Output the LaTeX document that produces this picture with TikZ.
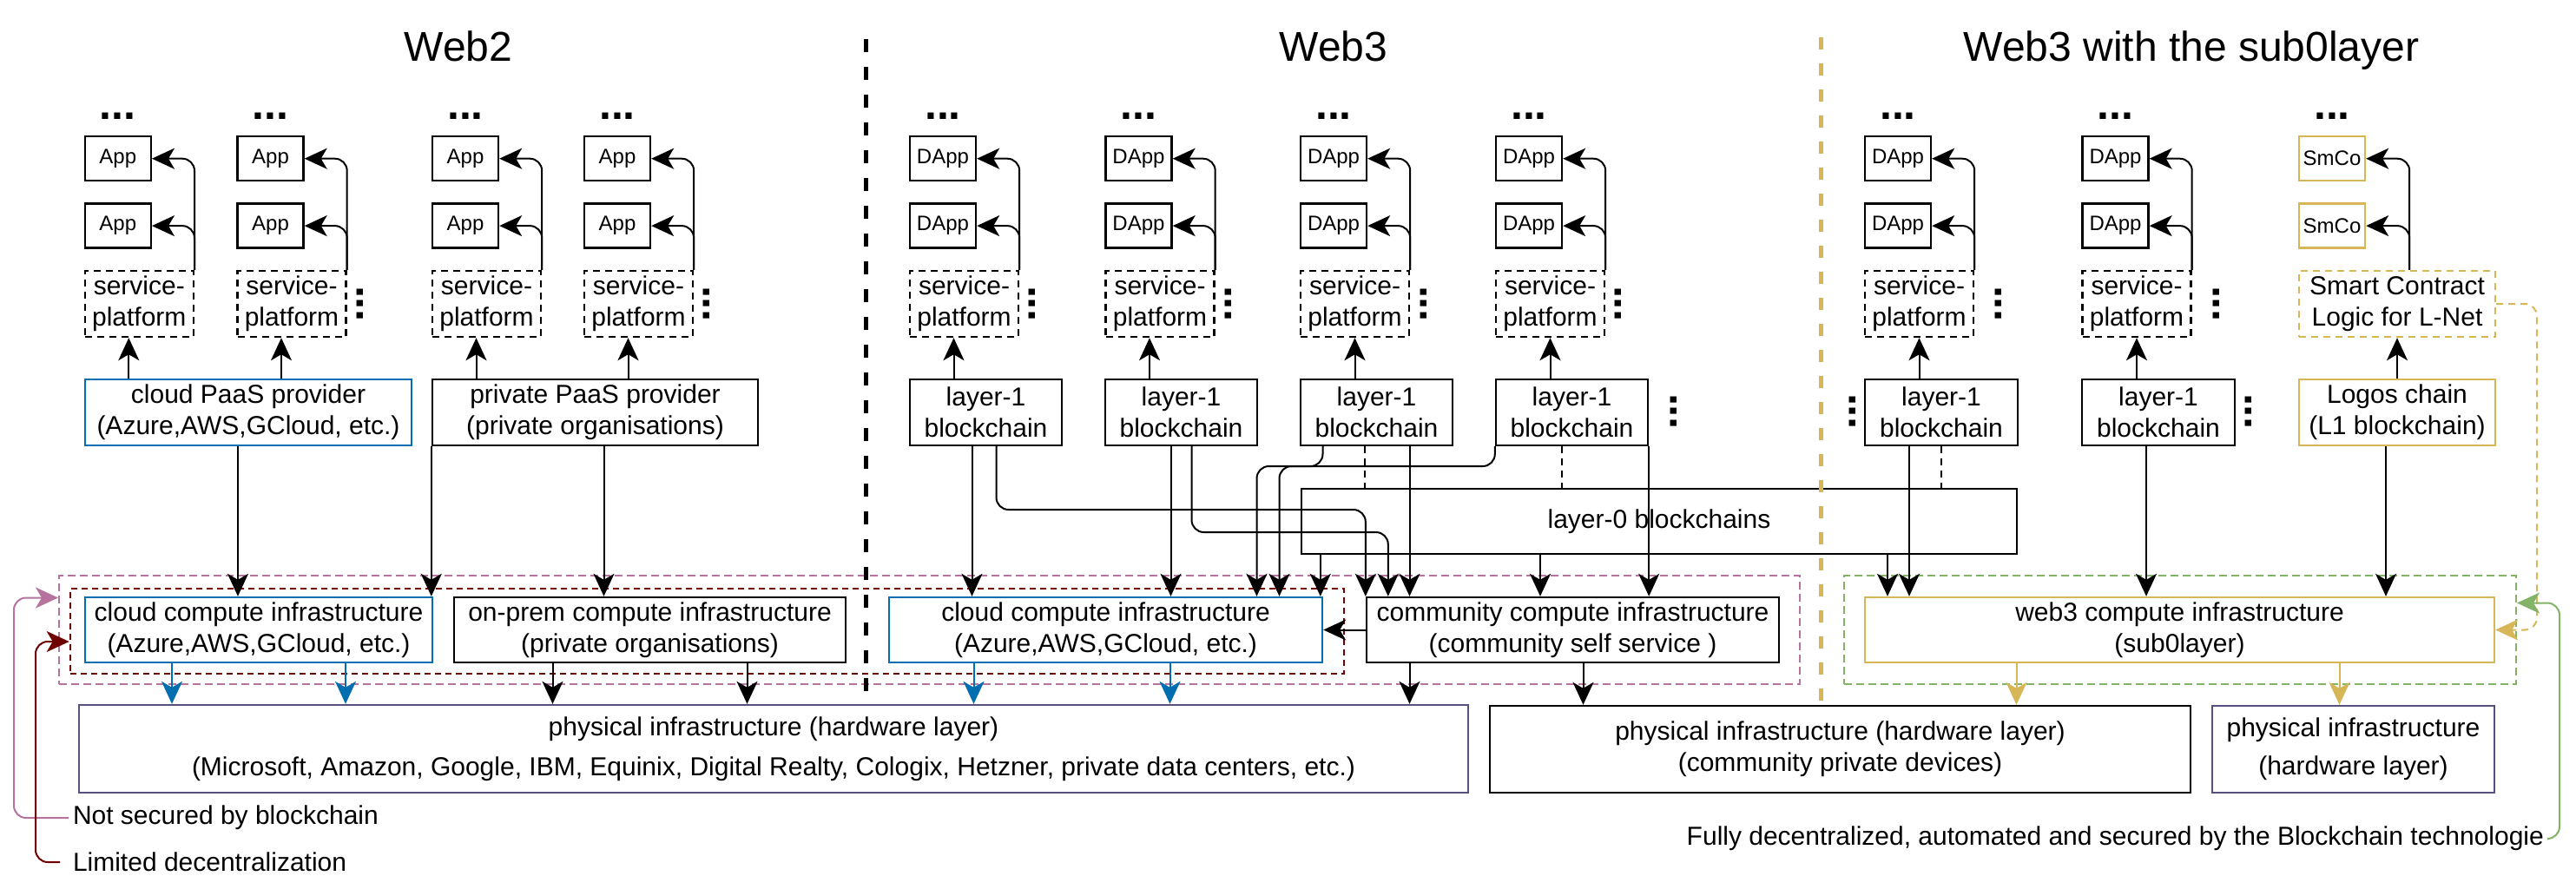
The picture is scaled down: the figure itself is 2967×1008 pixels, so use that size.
\documentclass[tikz,border=0pt]{standalone}
\usepackage{fontspec}
\setmainfont{Liberation Sans}
\usepackage{xcolor}
\usepackage{tikz}
\usetikzlibrary{positioning, arrows.meta, calc}
\definecolor{cloudblue}{HTML}{006EAF}
\definecolor{mauve}{HTML}{B5739D}
\definecolor{darkred}{HTML}{6F0000}
\definecolor{gold}{HTML}{D6B656}
\definecolor{leaf}{HTML}{82B366}
\definecolor{hwpurple}{HTML}{56517E}
\newcommand{\txtfont}{\fontsize{15}{18}\selectfont}
\newcommand{\appfont}{\fontsize{12}{14}\selectfont}
\newcommand{\ttlfont}{\fontsize{24}{29}\selectfont}
\newcommand{\dotfont}{\fontsize{25}{30}\selectfont\bfseries}
\tikzstyle{box}=[%
      rectangle, draw=black, line width=1.2pt, fill=white,
      minimum height=38pt, inner sep=0pt, align=center, font=\txtfont
]
\tikzstyle{appbox}=[%
      rectangle, draw=black, line width=1.2pt, fill=white,
      minimum width=38pt, minimum height=25.5pt, inner sep=0pt, font=\appfont
]
\tikzstyle{spbox}=[%
      rectangle, draw=black, line width=1.2pt, dash pattern=on 4pt off 3pt,
      minimum width=62.5pt, minimum height=38pt, inner sep=0pt, align=center, font=\txtfont
]
\tikzstyle{frame}=[rectangle, line width=1pt, dash pattern=on 4.5pt off 2.5pt]
\tikzstyle{hdots}=[inner sep=0pt, font=\dotfont]
\tikzstyle{vdots}=[inner sep=0pt, rotate=90, font=\dotfont]
\tikzstyle{title}=[anchor=base, font=\ttlfont]
\tikzstyle{note}=[inner sep=2pt, font=\txtfont]
\tikzstyle{elbow}=[->, rounded corners=7pt, to path={|- (\tikztotarget)}]
\tikzstyle{thindash}=[dash pattern=on 4pt off 3pt]

\begin{document}
\begin{tikzpicture}[x=0.5pt, y=-0.5pt, line width=1pt,
    >={Stealth[length=13pt, width=12pt, inset=3.5pt]}
  ]
    \useasboundingbox (0,0) rectangle (2967,1008);
    \coordinate (px) at (16,0);
    \coordinate (rx) at (41,0);
    \coordinate (gx) at (2948,0);
    \coordinate (gr) at (2922,0);
    \coordinate (ya) at (0,587);
    \coordinate (yb) at (0,613);
    \coordinate (yc) at (0,537);
    \coordinate (d1t) at (997,45);
    \coordinate (d1b) at (997,800);
    \coordinate (d2t) at (2097,43);
    \coordinate (d2b) at (2097,807);

    % titles
    \node[title] (t2)  at (528,70)  {Web2};
    \node[title] (t3)  at (1536,70) {Web3};
    \node[title] (t30) at (2524,70) {Web3 with the sub0layer};

    % dashed groups
    \node[frame, draw=mauve, minimum width=1002.5pt, minimum height=62.5pt] (grp23) at (1070.5,725.5) {};
    \node[frame, draw=darkred, line width=1.3pt, dash pattern=on 3.5pt off 2.5pt, minimum width=733.5pt, minimum height=49pt] (grp2) at (814.5,727) {};
    \node[frame, draw=leaf, minimum width=387pt, minimum height=62.5pt]     (grps0) at (2511,725.5) {};

    % Web2
    \node[spbox]  (sp1) at (160.3,350) {service-\\platform};
    \node[appbox] (a1b) [above=12pt of sp1.north west, anchor=south west] {App};
    \node[appbox] (a1a) [above=12pt of a1b] {App};
    \node[hdots]  (h1)  [above=9pt of a1a] {...};
    \node[spbox]  (sp2) at (336,350) {service-\\platform};
    \node[appbox] (a2b) [above=12pt of sp2.north west, anchor=south west] {App};
    \node[appbox] (a2a) [above=12pt of a2b] {App};
    \node[hdots]  (h2)  [above=9pt of a2a] {...};
    \node[spbox]  (sp3) at (560.5,350) {service-\\platform};
    \node[appbox] (a3b) [above=12pt of sp3.north west, anchor=south west] {App};
    \node[appbox] (a3a) [above=12pt of a3b] {App};
    \node[hdots]  (h3)  [above=9pt of a3a] {...};
    \node[spbox]  (sp4) at (735.5,350) {service-\\platform};
    \node[appbox] (a4b) [above=12pt of sp4.north west, anchor=south west] {App};
    \node[appbox] (a4a) [above=12pt of a4b] {App};
    \node[hdots]  (h4)  [above=9pt of a4a] {...};
    \node[vdots]  (v2)  at (415,350) {...};
    \node[vdots]  (v4)  at (814,350) {...};
    \node[box, draw=cloudblue, minimum width=188pt] (cpaas) at (286,475) {cloud PaaS provider\\(Azure,AWS,GCloud, etc.)};
    \node[box, minimum width=187.5pt] (ppaas) at (685.5,475) {private PaaS provider\\(private organisations)};
    \node[box, draw=cloudblue, minimum width=200pt, minimum height=37.5pt] (cc2) at (298,725.5) {cloud compute infrastructure\\(Azure,AWS,GCloud, etc.)};
    \node[box, minimum width=225.5pt, minimum height=37.5pt] (onp) at (748.5,725.5) {on-prem compute infrastructure\\(private organisations)};
    \node[box, draw=hwpurple, minimum width=800pt, minimum height=50.5pt] (ph2) at (891,862.5) {physical infrastructure (hardware layer)\\[5pt](Microsoft, Amazon, Google, IBM, Equinix, Digital Realty, Cologix, Hetzner, private data centers, etc.)};

    % Web3
    \node[spbox]  (spa) at (1110.5,350) {service-\\platform};
    \node[appbox] (bab) [above=12pt of spa.north west, anchor=south west] {DApp};
    \node[appbox] (baa) [above=12pt of bab] {DApp};
    \node[hdots]  (ha)  [above=9pt of baa] {...};
    \node[spbox]  (spb) at (1336,350) {service-\\platform};
    \node[appbox] (bbb) [above=12pt of spb.north west, anchor=south west] {DApp};
    \node[appbox] (bba) [above=12pt of bbb] {DApp};
    \node[hdots]  (hb)  [above=9pt of bba] {...};
    \node[spbox]  (spc) at (1560.5,350) {service-\\platform};
    \node[appbox] (bcb) [above=12pt of spc.north west, anchor=south west] {DApp};
    \node[appbox] (bca) [above=12pt of bcb] {DApp};
    \node[hdots]  (hc)  [above=9pt of bca] {...};
    \node[spbox]  (spd) at (1785.5,350) {service-\\platform};
    \node[appbox] (bdb) [above=12pt of spd.north west, anchor=south west] {DApp};
    \node[appbox] (bda) [above=12pt of bdb] {DApp};
    \node[hdots]  (hd)  [above=9pt of bda] {...};
    \node[vdots]  (va)  at (1189,350) {...};
    \node[vdots]  (vb)  at (1415,350) {...};
    \node[vdots]  (vc)  at (1640,350) {...};
    \node[vdots]  (vd)  at (1864,350) {...};
    \node[box, minimum width=87.5pt] (l1a) at (1135.5,475) {layer-1\\blockchain};
    \node[box, minimum width=87.5pt] (l1b) at (1360.5,475) {layer-1\\blockchain};
    \node[box, minimum width=87.5pt] (l1c) at (1585.5,475) {layer-1\\blockchain};
    \node[box, minimum width=87.5pt] (l1d) at (1810.5,475) {layer-1\\blockchain};
    \node[vdots]  (vl1) at (1928,474) {...};
    \node[box, minimum width=412pt, minimum height=37.5pt] (l0) at (1911,600.5) {layer-0 blockchains};
    \node[box, draw=cloudblue, minimum width=249.5pt, minimum height=37.5pt] (cc3) at (1273.5,725.5) {cloud compute infrastructure\\(Azure,AWS,GCloud, etc.)};
    \node[box, minimum width=237.5pt, minimum height=37.5pt] (comm) at (1811.5,725.5) {community compute infrastructure\\(community self service )};
    \node[box, minimum width=403.5pt, minimum height=50pt] (ph3) at (2119.5,863) {physical infrastructure (hardware layer)\\(community private devices)};

    % Web3 with the sub0layer
    \node[spbox]  (spe) at (2210.5,350) {service-\\platform};
    \node[appbox] (beb) [above=12pt of spe.north west, anchor=south west] {DApp};
    \node[appbox] (bea) [above=12pt of beb] {DApp};
    \node[hdots]  (he)  [above=9pt of bea] {...};
    \node[spbox]  (spf) at (2461,350) {service-\\platform};
    \node[appbox] (bfb) [above=12pt of spf.north west, anchor=south west] {DApp};
    \node[appbox] (bfa) [above=12pt of bfb] {DApp};
    \node[hdots]  (hf)  [above=9pt of bfa] {...};
    \node[spbox, draw=gold, minimum width=113pt] (smsp) at (2761,350) {Smart Contract\\Logic for L-Net};
    \node[appbox, draw=gold] (g1b) [above=12pt of smsp.north west, anchor=south west] {SmCo};
    \node[appbox, draw=gold] (g1a) [above=12pt of g1b] {SmCo};
    \node[hdots]  (hg)  [above=9pt of g1a] {...};
    \node[vdots]  (ve)  at (2302,350) {...};
    \node[vdots]  (vf)  at (2553,350) {...};
    \node[box, minimum width=88pt] (l1e) at (2236,475) {layer-1\\blockchain};
    \node[box, minimum width=88pt] (l1f) at (2486,475) {layer-1\\blockchain};
    \node[box, draw=gold, minimum width=113pt] (logos) at (2761,475) {Logos chain\\(L1 blockchain)};
    \node[vdots]  (vl1e) at (2134,474) {...};
    \node[vdots]  (vl1f) at (2590,474) {...};
    \node[box, draw=gold, minimum width=362.5pt, minimum height=37.5pt] (s0c) at (2510.5,725.5) {web3 compute infrastructure\\(sub0layer)};
    \node[box, draw=hwpurple, minimum width=162.5pt, minimum height=50pt] (ph0) at (2710.5,863) {physical infrastructure\\[4pt](hardware layer)};

    % notes
    \node[note, anchor=west] (nsec)  at (79,942)   {Not secured by blockchain};
    \node[note, anchor=west] (ldec)  at (79,993)   {Limited decentralization};
    \node[note, anchor=east] (fully) at (2935,966) {Fully decentralized, automated and secured by the Blockchain technologie};

    % apps
    \path (sp1.north east) edge[elbow] (a1a.east) edge[elbow] (a1b.east)
          (sp2.north east) edge[elbow] (a2a.east) edge[elbow] (a2b.east)
          (sp3.north east) edge[elbow] (a3a.east) edge[elbow] (a3b.east)
          (sp4.north east) edge[elbow] (a4a.east) edge[elbow] (a4b.east)
          (spa.north east) edge[elbow] (baa.east) edge[elbow] (bab.east)
          (spb.north east) edge[elbow] (bba.east) edge[elbow] (bbb.east)
          (spc.north east) edge[elbow] (bca.east) edge[elbow] (bcb.east)
          (spd.north east) edge[elbow] (bda.east) edge[elbow] (bdb.east)
          (spe.north east) edge[elbow] (bea.east) edge[elbow] (beb.east)
          (spf.north east) edge[elbow] (bfa.east) edge[elbow] (bfb.east)
          ([xshift=25pt]g1a.east |- smsp.north) edge[elbow] (g1a.east) edge[elbow] (g1b.east);

    % Web2 connectors
    \path[->] ([xshift=-6pt]sp1.south |- cpaas.north) edge ([xshift=-6pt]sp1.south)
          ([xshift=-6pt]sp2.south |- cpaas.north) edge ([xshift=-6pt]sp2.south)
          ([xshift=-6pt]sp3.south |- ppaas.north) edge ([xshift=-6pt]sp3.south)
          ([xshift=-6pt]sp4.south |- ppaas.north) edge ([xshift=-6pt]sp4.south)
          ([xshift=-6pt]cpaas.south) edge ([xshift=-6pt]cpaas.south |- cc2.north)
          (ppaas.south west) edge (ppaas.south west |- cc2.north)
          ([xshift=5pt]ppaas.south) edge ([xshift=5pt]ppaas.south |- onp.north)
          ([xshift=-56pt]onp.south) edge ([xshift=-56pt]onp.south |- ph2.north)
          ([xshift=56pt]onp.south) edge ([xshift=56pt]onp.south |- ph2.north);
    \path[->, cloudblue] ([xshift=-50pt]cc2.south) edge ([xshift=-50pt]cc2.south |- ph2.north)
          ([xshift=50pt]cc2.south) edge ([xshift=50pt]cc2.south |- ph2.north)
          ([xshift=-76pt]cc3.south) edge ([xshift=-76pt]cc3.south |- ph2.north)
          ([xshift=37pt]cc3.south) edge ([xshift=37pt]cc3.south |- ph2.north);

    % Web3 connectors
    \path[->] ([xshift=-6pt]spa.south |- l1a.north) edge ([xshift=-6pt]spa.south)
          ([xshift=-6pt]spb.south |- l1b.north) edge ([xshift=-6pt]spb.south)
          (spc.south |- l1c.north) edge (spc.south)
          (spd.south |- l1d.north) edge (spd.south)
          ([xshift=-8pt]l1a.south) edge ([xshift=-8pt]l1a.south |- cc3.north)
          ([xshift=-6pt]l1b.south) edge ([xshift=-6pt]l1b.south |- cc3.north)
          ([xshift=19pt]l1c.south) edge ([xshift=19pt]l1c.south |- comm.north)
          (l1d.south east) edge (l1d.south east |- comm.north)
          ([xshift=11.5pt]l0.south west) edge ([xshift=11.5pt]l0.south west |- cc3.north)
          ([xshift=-68.5pt]l0.south) edge ([xshift=-68.5pt]l0.south |- comm.north)
          ([xshift=131.5pt]l0.south) edge ([xshift=131.5pt]l0.south |- s0c.north)
          (comm.west) edge (cc3.east)
          ([xshift=-94pt]comm.south) edge ([xshift=-94pt]comm.south |- ph2.north)
          ([xshift=6pt]comm.south) edge ([xshift=6pt]comm.south |- ph3.north);
    \draw[->, rounded corners=7pt] ([xshift=6pt]l1a.south) |- (ya -| comm.north west) -- (comm.north west);
    \draw[->, rounded corners=7pt] ([xshift=6pt]l1b.south) |- ([xshift=13pt]comm.north west |- yb) -- ([xshift=13pt]comm.north west);
    \draw[->, rounded corners=7pt] ([xshift=-31pt]l1c.south) |- ([xshift=87pt]cc3.north |- yc) -- ([xshift=87pt]cc3.north);
    \draw[->, rounded corners=7pt] (l1d.south west) |- ([xshift=100pt]cc3.north |- yc) -- ([xshift=100pt]cc3.north);
    \path[thindash] ([xshift=-7pt]l1c.south) edge ([xshift=-7pt]l1c.south |- l0.north)
          ([xshift=-6pt]l1d.south) edge ([xshift=-6pt]l1d.south |- l0.north)
          (l1e.south) edge (l1e.south |- l0.north);

    % sub0layer connectors
    \path[->] (spe.south |- l1e.north) edge (spe.south)
          (spf.south |- l1f.north) edge (spf.south)
          (smsp.south |- logos.north) edge (smsp.south)
          ([xshift=-18.5pt]l1e.south) edge ([xshift=-18.5pt]l1e.south |- s0c.north)
          ([xshift=-7pt]l1f.south) edge ([xshift=-7pt]l1f.south |- s0c.north)
          ([xshift=-6.5pt]logos.south) edge ([xshift=-6.5pt]logos.south |- s0c.north);
    \path[->, gold] ([xshift=-94pt]s0c.south) edge ([xshift=-94pt]s0c.south |- ph3.north)
          ([xshift=92pt]s0c.south) edge ([xshift=92pt]s0c.south |- ph0.north);
    \draw[->, gold, thindash, rounded corners=7pt] (smsp.east) -| (gr |- s0c.east) -- (s0c.east);

    % notes
    \draw[->, mauve, rounded corners=7pt] (nsec.west) -- (nsec.west -| px) |- ([yshift=18.5pt]grp23.west);
    \draw[->, darkred, rounded corners=7pt] ([xshift=-5pt]ldec.west) -- (ldec.west -| rx) |- ([yshift=-6pt]grp2.west);
    \draw[->, leaf, rounded corners=7pt] (fully.east) -- (fully.east -| gx) |- ([yshift=15.5pt]grps0.east);

    % dividers
    \draw[line width=2.5pt, dash pattern=on 7.5pt off 8.5pt] (d1t) -- (d1b);
    \draw[gold, line width=2.5pt, dash pattern=on 7pt off 8pt] (d2t) -- (d2b);
\end{tikzpicture}
\end{document}
